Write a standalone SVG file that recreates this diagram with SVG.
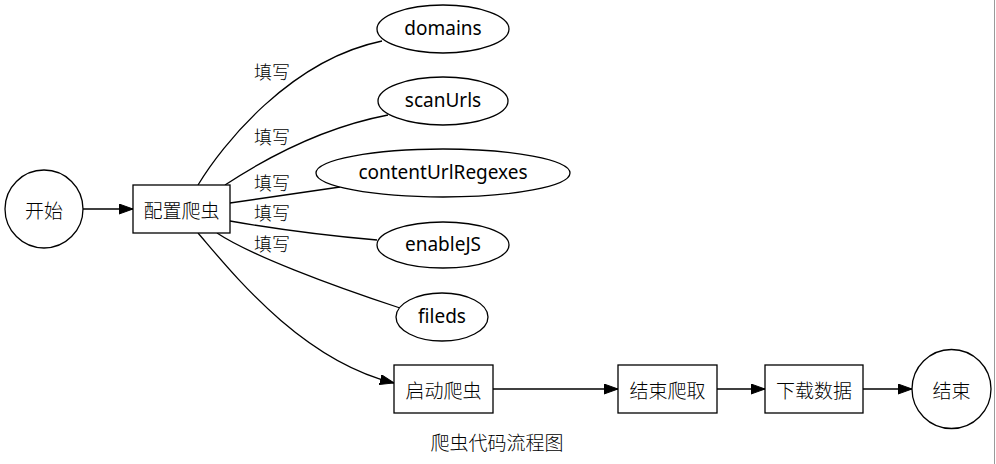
<svg xmlns="http://www.w3.org/2000/svg" width="996" height="464" viewBox="0 0 996 464">
<style>
  .shape { fill: #ffffff; stroke: #000000; stroke-width: 1.3; }
  .edge { fill: none; stroke: #000000; stroke-width: 1.3; }
  .t { font-family: "Noto Sans", "Noto Sans CJK SC", sans-serif; font-size: 19px; fill: #000000; text-anchor: middle; dominant-baseline: central; }
  .cjk { font-family: "Noto Sans CJK SC", sans-serif; font-size: 19px; font-weight: 300; fill: #000000; text-anchor: middle; dominant-baseline: central; }
  .lbl { font-family: "Noto Sans CJK SC", sans-serif; font-size: 18px; font-weight: 300; fill: #000000; text-anchor: middle; dominant-baseline: central; }
</style>
<defs>
  <marker id="arrow" markerUnits="userSpaceOnUse" markerWidth="15" markerHeight="11" refX="14" refY="5" orient="auto">
    <path d="M0,0 L14,5 L0,10 Z" fill="#000000" stroke="#000000" stroke-width="1"/>
  </marker>
</defs>
<rect x="0" y="0" width="996" height="464" fill="#ffffff"/>
<line x1="994.5" y1="0" x2="994.5" y2="464" stroke="#9a9a9a" stroke-width="1"/>

<g id="edges">
  <line class="edge" x1="83" y1="209" x2="133" y2="209" marker-end="url(#arrow)"/>
  <path class="edge" d="M198,185 C222,145 290,60 382,41"/>
  <path class="edge" d="M225,185 C260,162 320,128 388,115"/>
  <path class="edge" d="M230,203 C265,198 305,192 340,187"/>
  <path class="edge" d="M230,221 C270,228 330,236 377,240"/>
  <path class="edge" d="M217,233 C250,255 330,285 400,308"/>
  <path class="edge" d="M198,233 C230,270 300,360 394,383" marker-end="url(#arrow)"/>
  <line class="edge" x1="493" y1="389" x2="618" y2="389" marker-end="url(#arrow)"/>
  <line class="edge" x1="717" y1="389" x2="765" y2="389" marker-end="url(#arrow)"/>
  <line class="edge" x1="863" y1="389" x2="912" y2="389" marker-end="url(#arrow)"/>
  <text class="lbl" x="272" y="71">填写</text>
  <text class="lbl" x="272" y="136">填写</text>
  <text class="lbl" x="272" y="182">填写</text>
  <text class="lbl" x="272" y="212">填写</text>
  <text class="lbl" x="272" y="243">填写</text>
</g>

<g id="start">
  <circle class="shape" cx="44" cy="209" r="39"/>
  <text class="cjk" x="44" y="209">开始</text>
</g>
<g id="config">
  <rect class="shape" x="133" y="185" width="97" height="48"/>
  <text class="cjk" x="181.5" y="209">配置爬虫</text>
</g>
<g id="domains">
  <ellipse class="shape" cx="443" cy="29" rx="66" ry="24"/>
  <text class="t" x="443" y="28">domains</text>
</g>
<g id="scanUrls">
  <ellipse class="shape" cx="443" cy="101" rx="65" ry="24"/>
  <text class="t" x="443" y="100">scanUrls</text>
</g>
<g id="contentUrlRegexes">
  <ellipse class="shape" cx="443" cy="173" rx="127" ry="24"/>
  <text class="t" x="443" y="172">contentUrlRegexes</text>
</g>
<g id="enableJS">
  <ellipse class="shape" cx="443" cy="245" rx="66" ry="23"/>
  <text class="t" x="443" y="244">enableJS</text>
</g>
<g id="fileds">
  <ellipse class="shape" cx="442" cy="317" rx="46" ry="24"/>
  <text class="t" x="442" y="316">fileds</text>
</g>
<g id="launch">
  <rect class="shape" x="394" y="365" width="99" height="48"/>
  <text class="cjk" x="443.5" y="389">启动爬虫</text>
</g>
<g id="finishCrawl">
  <rect class="shape" x="618" y="365" width="99" height="48"/>
  <text class="cjk" x="667.5" y="389">结束爬取</text>
</g>
<g id="download">
  <rect class="shape" x="765" y="365" width="98" height="48"/>
  <text class="cjk" x="814" y="389">下载数据</text>
</g>
<g id="end">
  <circle class="shape" cx="951.5" cy="389" r="39.5"/>
  <text class="cjk" x="951.5" y="389">结束</text>
</g>
<g id="title">
  <text class="cjk" x="497" y="441">爬虫代码流程图</text>
</g>
</svg>
